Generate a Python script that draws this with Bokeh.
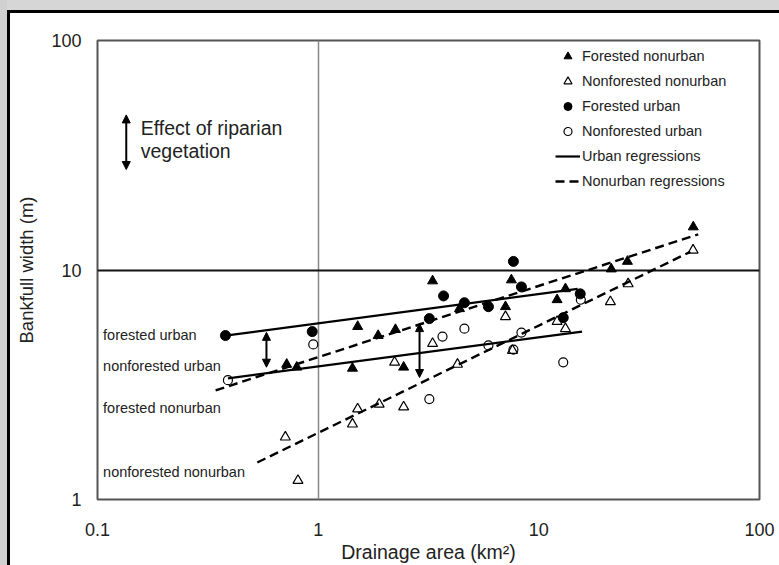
from bokeh.plotting import figure
from bokeh.models import (Range1d, FixedTicker, CustomJSTickFormatter, Legend, LegendItem,
                          Arrow, NormalHead, Label)
from bokeh.embed import file_html
from bokeh.resources import INLINE

# ---------------- data ----------------
# Forested nonurban (filled triangles)
fn_x = [0.72, 0.80, 1.43, 1.51, 1.87, 2.24, 2.44, 3.30, 4.37, 7.06, 7.51, 12.1, 13.2, 21.3, 25.2, 50.1]
fn_y = [3.88, 3.77, 3.73, 5.67, 5.18, 5.50, 3.77, 8.96, 6.78, 6.92, 9.05, 7.42, 8.28, 10.1, 10.9, 15.4]
# Nonforested nonurban (open triangles)
nn_x = [0.71, 0.81, 1.43, 1.51, 1.89, 2.22, 2.44, 3.30, 4.28, 7.06, 7.60, 12.1, 13.2, 21.1, 25.4, 50.0]
nn_y = [1.87, 1.21, 2.13, 2.48, 2.60, 3.96, 2.53, 4.78, 3.88, 6.26, 4.46, 5.96, 5.55, 7.27, 8.70, 12.2]
# Forested urban (filled circles)
fu_x = [0.38, 0.94, 3.19, 3.70, 4.60, 5.91, 7.67, 8.34, 12.9, 15.4]
fu_y = [5.18, 5.39, 6.14, 7.71, 7.20, 6.92, 10.9, 8.44, 6.20, 7.87]
# Nonforested urban (open circles)
nu_x = [0.39, 0.95, 3.19, 3.66, 4.60, 5.91, 7.67, 8.34, 12.9, 15.5]
nu_y = [3.31, 4.74, 2.74, 5.13, 5.55, 4.69, 4.50, 5.34, 3.96, 7.42]

# Regression lines (end points)
reg_fu_x = [0.38, 15.0]
reg_fu_y = [5.18, 8.27]
reg_nu_x = [0.39, 15.7]
reg_nu_y = [3.37, 5.39]
reg_fn_x = [0.343, 52.8]
reg_fn_y = [2.99, 14.3]
reg_nn_x = [0.53, 48.6]
reg_nn_y = [1.45, 12.0]

# Effect arrows: x, y_top, y_bottom
arrow_x = [0.135, 0.583, 2.88]
arrow_top = [47.4, 5.35, 5.84]
arrow_bot = [27.4, 3.77, 3.40]

# Text annotations
note_lines = ["Effect of riparian", "vegetation"]
note_x = 0.157
note_y = [41.6, 33.1]
region_labels = ["forested urban", "nonforested urban", "forested nonurban", "nonforested nonurban"]
region_x = 0.106
region_y = [5.23, 3.80, 2.50, 1.32]

x_ticks = [0.1, 1, 10, 100]
y_ticks = [1, 10, 100]

FONT = "Liberation Sans"

# ---------------- figure ----------------
p = figure(width=779, height=565, x_axis_type="log", y_axis_type="log",
           x_range=Range1d(0.1, 100), y_range=Range1d(1, 100),
           output_backend="svg", toolbar_location=None,
           min_border_left=97, min_border_right=20, min_border_top=40, min_border_bottom=63)
# grey page edge and black frame of the original panel, painted behind a transparent border
p.styles = {
    "background-color": "#ffffff",
    "background-repeat": "no-repeat",
    "background-clip": "border-box",
    "background-image": ("linear-gradient(to right, #d0d0d0 7px, rgba(0,0,0,0) 7px), "
                         "linear-gradient(to bottom, #d6d6d6 10px, rgba(0,0,0,0) 10px), "
                         "linear-gradient(to right, #000000 10px, rgba(0,0,0,0) 10px), "
                         "linear-gradient(to bottom, #000000 13px, rgba(0,0,0,0) 13px)"),
}
p.background_fill_color = "white"
p.border_fill_color = "white"
p.border_fill_alpha = 0
p.outline_line_color = "#555555"
p.outline_line_width = 2

for ax, ticks in ((p.xaxis, x_ticks), (p.yaxis, y_ticks)):
    ax.ticker = FixedTicker(ticks=ticks)
    ax.formatter = CustomJSTickFormatter(code="return tick.toString();")
    ax.axis_line_color = None
    ax.major_tick_line_color = None
    ax.minor_tick_line_color = None
    ax.major_label_text_font = FONT
    ax.major_label_text_font_size = "18px"
    ax.major_label_text_color = "#222222"
    ax.axis_label_text_font = FONT
    ax.axis_label_text_font_style = "normal"
    ax.axis_label_text_color = "#222222"

p.xaxis.axis_label = "Drainage area (km²)"
p.yaxis.axis_label = "Bankfull width (m)"
p.xaxis.axis_label_text_font_size = "19.5px"
p.yaxis.axis_label_text_font_size = "18.5px"
p.xaxis.major_label_standoff = 17
p.xaxis.axis_label_standoff = 2
p.yaxis.major_label_standoff = 10
p.yaxis.axis_label_standoff = 11

p.xgrid.ticker = FixedTicker(ticks=[1])
p.ygrid.ticker = FixedTicker(ticks=[10])
p.xgrid.grid_line_color = "#888888"
p.xgrid.grid_line_width = 1.5
p.ygrid.grid_line_color = "#111111"
p.ygrid.grid_line_width = 2

# regression lines
r_u1 = p.line(reg_fu_x, reg_fu_y, line_color="black", line_width=2.2)
p.line(reg_nu_x, reg_nu_y, line_color="black", line_width=2.2)
r_n1 = p.line(reg_fn_x, reg_fn_y, line_color="black", line_width=2.4, line_dash="9 5")
p.line(reg_nn_x, reg_nn_y, line_color="black", line_width=2.4, line_dash="9 5")

# points
r_fn = p.scatter(fn_x, fn_y, marker="triangle", size=10, fill_color="black", line_color="black")
r_nn = p.scatter(nn_x, nn_y, marker="triangle", size=10, fill_color=None, line_color="black", line_width=1.2)
r_fu = p.scatter(fu_x, fu_y, marker="circle", size=10, fill_color="black", line_color="black")
r_nu = p.scatter(nu_x, nu_y, marker="circle", size=9, fill_color=None, line_color="black", line_width=1.2)

# arrows
for ax_, yt, yb in zip(arrow_x, arrow_top, arrow_bot):
    p.add_layout(Arrow(x_start=ax_, y_start=yb, x_end=ax_, y_end=yt,
                       line_color="black", line_width=2,
                       start=NormalHead(size=8, fill_color="black", line_color="black"),
                       end=NormalHead(size=8, fill_color="black", line_color="black")))

for txt, yy in zip(note_lines, note_y):
    p.add_layout(Label(x=note_x, y=yy, text=txt, text_font=FONT, text_font_size="19.5px",
                       text_baseline="middle", text_align="left", text_color="#222222"))

for txt, yy in zip(region_labels, region_y):
    p.add_layout(Label(x=region_x, y=yy, text=txt, text_font=FONT, text_font_size="14.5px",
                       text_baseline="middle", text_align="left", text_color="#222222"))

legend = Legend(items=[
    LegendItem(label="Forested nonurban", renderers=[r_fn]),
    LegendItem(label="Nonforested nonurban", renderers=[r_nn]),
    LegendItem(label="Forested urban", renderers=[r_fu]),
    LegendItem(label="Nonforested urban", renderers=[r_nu]),
    LegendItem(label="Urban regressions", renderers=[r_u1]),
    LegendItem(label="Nonurban regressions", renderers=[r_n1]),
], location=(458, 308))
legend.label_text_font = FONT
legend.label_text_font_size = "14.5px"
legend.label_text_color = "#222222"
legend.glyph_width = 25
legend.glyph_height = 20
legend.label_height = 20
legend.spacing = 5
legend.label_standoff = 2
legend.padding = 0
legend.margin = 0
legend.border_line_color = None
legend.background_fill_alpha = 0
p.add_layout(legend)

open("out.html", "w").write(file_html(p, INLINE))
